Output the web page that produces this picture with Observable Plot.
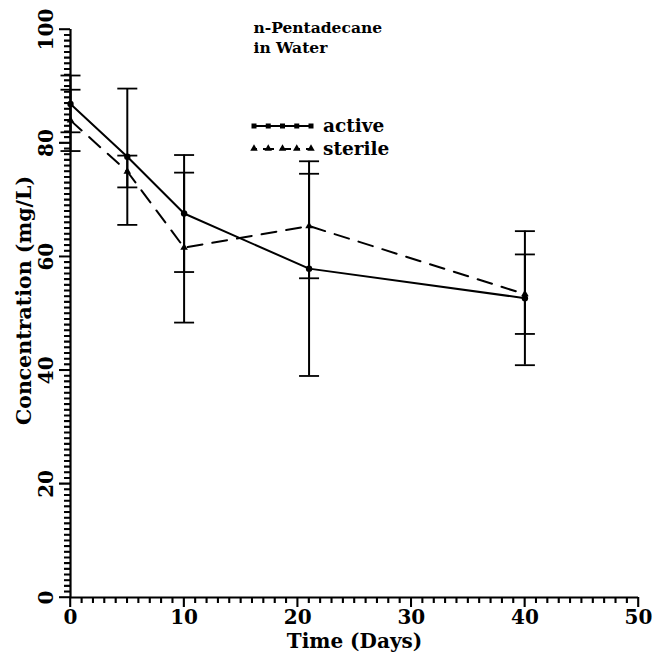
<!DOCTYPE html>
<html><head><meta charset="utf-8">
<script src="https://cdn.jsdelivr.net/npm/d3@7"></script>
<script src="https://cdn.jsdelivr.net/npm/@observablehq/plot@0.6"></script>
<style>
body{margin:0;background:#fff}
#chart{width:655px;height:654px;position:relative}
#chart svg{display:block}
</style>
</head><body><div id="chart"></div>
<script>
// ---- data ----
const days = [0, 5, 10, 21, 40];
const activeMean = [86.9, 77.6, 67.6, 57.9, 52.7];
const activeErr  = [5.0, 12.0, 10.3, 18.9, 11.8];
const sterileMean = [84.0, 75.0, 61.6, 65.4, 53.4];
const sterileErr  = [5.4, 2.8, 13.2, 9.2, 7.0];
const seriesNames = ["active", "sterile"];
const titleText = ["n-Pentadecane", "in Water"];
const xTickLabels = [0, 10, 20, 30, 40, 50];
const yTickLabels = [0, 20, 40, 60, 80, 100];
const xMinorTicks = d3.range(0, 51, 1);
const yMinorTicks = d3.range(0, 101, 1);
const xLabel = "Time (Days)";
const yLabel = "Concentration (mg/L)";

const W = 655, H = 654, ML = 70, MR = 17, MT = 29, MB = 57;
const xDomain = [0, 50], yDomain = [0, 100];
const pxToY = px => px * (yDomain[1] - yDomain[0]) / (H - MT - MB);
const pxToX = px => px * (xDomain[1] - xDomain[0]) / (W - ML - MR);

const rows = days.flatMap((d, i) => [
  {series: "active", day: d, value: activeMean[i], lo: activeMean[i] - activeErr[i], hi: activeMean[i] + activeErr[i]},
  {series: "sterile", day: d, value: sterileMean[i], lo: sterileMean[i] - sterileErr[i], hi: sterileMean[i] + sterileErr[i]}
]);
const active = rows.filter(r => r.series === "active");
const sterile = rows.filter(r => r.series === "sterile");

const hline = {draw(ctx, size) { const r = Math.sqrt(size / Math.PI); ctx.moveTo(-r, 0); ctx.lineTo(r, 0); }};
const FONT = "DejaVu Serif";

// outward axis ticks as single paths, positioned through Plot's scales
function axisTicks(index, scales) {
  const g = d3.create("svg:g").attr("fill", "none").attr("stroke", "#000").attr("stroke-width", 1.6);
  const x0 = scales.x(xDomain[0]), y0 = scales.y(yDomain[0]);
  const p = d3.path();
  xMinorTicks.forEach(v => { const x = scales.x(v); p.moveTo(x, y0); p.lineTo(x, y0 + (xTickLabels.includes(v) ? 10 : 6)); });
  yMinorTicks.forEach(v => { const y = scales.y(v); p.moveTo(x0, y); p.lineTo(x0 - (yTickLabels.includes(v) ? 11 : 6), y); });
  g.append("path").attr("d", p.toString());
  return g.node();
}

function legend(index, scales, values, dim) {
  const g = d3.create("svg:g").attr("font-family", FONT).attr("text-anchor", "start");
  const x0 = dim.marginLeft + 184, x1 = x0 + 57;
  seriesNames.forEach((name, i) => {
    const y = dim.marginTop + 97 + i * 23;
    g.append("line").attr("x1", x0).attr("x2", x1).attr("y1", y).attr("y2", y)
      .attr("stroke", "black").attr("stroke-width", 2)
      .attr("stroke-dasharray", name === "sterile" ? "3,6,11,6,11,6" : null);
    d3.range(5).forEach(k => {
      const cx = x0 + k * (x1 - x0) / 4;
      if (name === "active") g.append("rect").attr("x", cx - 2.5).attr("y", y - 2.5).attr("width", 5).attr("height", 5).attr("fill", "black");
      else g.append("path").attr("d", d3.symbol(d3.symbolTriangle, 24)()).attr("transform", `translate(${cx},${y - 0.5})`).attr("fill", "black");
    });
    g.append("text").attr("x", x1 + 12).attr("y", y).attr("dy", "0.32em")
      .attr("font-size", 18.5).attr("font-weight", "bold").attr("fill", "black").text(name);
  });
  return g.node();
}

const chart = Plot.plot({
  width: W, height: H,
  marginLeft: ML, marginRight: MR, marginTop: MT, marginBottom: MB,
  x: {domain: xDomain, label: null, axis: null},
  y: {domain: yDomain, label: null, axis: null},
  style: {fontFamily: FONT, background: "white", color: "black", overflow: "visible"},
  marks: [
    // ticks (rules in data units) + axis lines
    Plot.ruleX(xMinorTicks, {x: d => d, y1: d => 0, y2: d => -pxToY(xTickLabels.includes(d) ? 10 : 6), stroke: "black", strokeWidth: 1.5}),
    Plot.ruleY(yMinorTicks, {y: d => d, x1: d => 0, x2: d => -pxToX(yTickLabels.includes(d) ? 11 : 6), stroke: "black", strokeWidth: 1.5}),
    Plot.ruleX([0], {y1: yDomain[0], y2: yDomain[1], strokeWidth: 2.2}),
    Plot.ruleY([0], {x1: xDomain[0], x2: xDomain[1], strokeWidth: 2.2}),
    // tick labels
    Plot.text(xTickLabels, {x: d => d, frameAnchor: "bottom", dy: 20, fontSize: 20, fontWeight: "bold", textAnchor: "middle", lineAnchor: "middle"}),
    Plot.text(yTickLabels, {y: d => d, frameAnchor: "left", dx: -24, rotate: -90, fontSize: 20, fontWeight: "bold", textAnchor: "middle", lineAnchor: "middle"}),
    // axis labels
    Plot.text([xLabel], {frameAnchor: "bottom", dy: 44, fontSize: 20, fontWeight: "bold", textAnchor: "middle", lineAnchor: "middle"}),
    Plot.text([yLabel], {frameAnchor: "left", dx: -46, dy: -13, rotate: -90, fontSize: 20.5, fontWeight: "bold", textAnchor: "middle", lineAnchor: "middle"}),
    // title
    Plot.text([titleText.join("\n")], {frameAnchor: "top-left", dx: 183, dy: -11, textAnchor: "start", lineAnchor: "top", fontSize: 15.5, fontWeight: "bold", lineHeight: 1.3}),
    // error bars
    Plot.ruleX(rows, {x: "day", y1: "lo", y2: "hi", strokeWidth: 2}),
    Plot.dot(rows, {x: "day", y: "hi", symbol: hline, r: 10, stroke: "black", strokeWidth: 1.8, fill: "none"}),
    Plot.dot(rows, {x: "day", y: "lo", symbol: hline, r: 10, stroke: "black", strokeWidth: 1.8, fill: "none"}),
    // series lines
    Plot.line(active, {x: "day", y: "value", stroke: "black", strokeWidth: 2}),
    Plot.line(sterile, {x: "day", y: "value", stroke: "black", strokeWidth: 2, strokeDasharray: "15,10"}),
    Plot.dot(active, {x: "day", y: "value", r: 3.2, fill: "black"}),
    Plot.dot(sterile, {x: "day", y: "value", symbol: "triangle", r: 2.8, fill: "black"}),
    legend,
    axisTicks
  ]
});
document.getElementById("chart").append(chart);
</script>
</body></html>
